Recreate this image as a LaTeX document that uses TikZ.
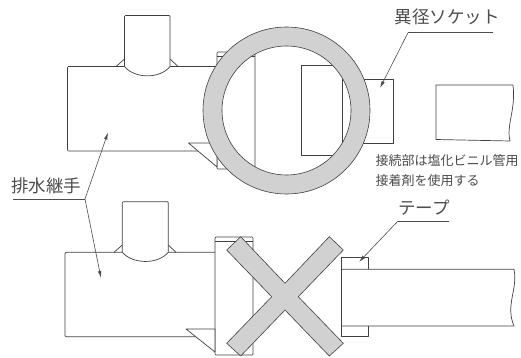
\documentclass[tikz,border=0pt]{standalone}
\usepackage{fontspec}
\setmainfont{Noto Sans CJK JP}
\usetikzlibrary{calc,arrows.meta}

\tikzset{
  outline/.style={color=black!75, line width=0.7pt, line join=round},
  leader/.style={color=black!70, line width=0.6pt},
  leaderarrow/.style={leader, -{Latex[length=7pt,width=3.5pt]}},
  cover/.style={color=black!75, fill=black!18, line width=0.6pt},
  biglabel/.style={color=black!70, font=\fontsize{17.5}{17.5}\selectfont, inner sep=0pt},
  smalllabel/.style={color=black!70, font=\fontsize{13}{13}\selectfont, inner sep=0pt, anchor=west}
}

\begin{document}
\begin{tikzpicture}[x=1pt,y=-1pt]
    \useasboundingbox (0,0) rectangle (521,358);

    % upper joint
    \draw [outline, rounded corners=1pt] (217,66.5) -- (67.5,66.5) -- (67.5,151) -- (217,151);
    \draw [outline] (116,66.5) -- (124.5,59);
    \draw [outline] (170,59) -- (178,66.5);
    \fill [white] (124.5,66.5) rectangle (170,70);
    \draw [outline, fill=white] (124.5,66.5) -- (124.5,16.5) [rounded corners=1pt] -- (124.5,15.5) -- (170,15.5) [sharp corners] -- (170,66.5) .. controls (160,79) and (135,79) .. (124.5,66.5);
    \draw [outline, fill=white, rounded corners=1pt] (217,52) rectangle (255,169);
    \draw [outline] (217,56) -- (255,56);
    \draw [outline, fill=white] (188.5,143) -- (217,143) -- (217,167) -- cycle;

    % upper socket and pipe
    \draw [outline] (301,65) rectangle (342,155);
    \draw [outline] (342,79) rectangle (393,143);
    \draw [outline] (513,85) -- (436,85) -- (436,139.5) -- (510,141) .. controls (506,125) and (516,110) .. (513,85);

    % ring
    \draw [cover, even odd rule] (286.5,110.5) circle (83.5pt) circle (64.5pt);

    % lower joint
    \draw [outline, rounded corners=1pt] (215,252.3) -- (65,252.3) -- (65,336.7) -- (215,336.7);
    \draw [outline] (114,252.3) -- (122.3,245);
    \draw [outline] (168.3,245) -- (176,252.3);
    \draw [outline, fill=white] (122.3,252.3) -- (122.3,202.7) [rounded corners=1pt] -- (122.3,201.7) -- (168.3,201.7) [sharp corners] -- (168.3,252.3) .. controls (158,264.5) and (133,264.5) .. (122.3,252.3);
    \draw [outline, fill=white, rounded corners=1pt] (215,237) rectangle (253,355);
    \draw [outline] (215,241) -- (253,241);
    \draw [outline, fill=white] (186,329) -- (215,329) -- (215,352) -- cycle;

    % lower pipe with tape
    \draw [outline] (368.7,269.3) -- (368.7,257.3) -- (341.3,257.3) -- (341.3,336) -- (368.7,336) -- (368.7,326);
    \draw [outline] (341.3,269.3) -- (514,269.3) .. controls (518,290) and (505,305) .. (514,326) -- (341.3,326);

    % cross
    \draw [cover] (240.7,236.7) -- (285,283.3) -- (329.3,236.7) -- (343.3,250) -- (298.3,296.7) -- (343.3,343.3) -- (329.3,356) -- (285,310) -- (240.7,356) -- (226.7,343.3) -- (271.7,296.7) -- (226.7,250) -- cycle;

    % labels
    \node [biglabel] (socketlabel) at (447,17) {異径ソケット};
    \node [biglabel] (jointlabel) at (46,186) {排水継手};
    \node [biglabel] (tapelabel) at (424,208) {テープ};
    \node [smalllabel] (gluelabela) at (375.5,160.5) {接続部は塩化ビニル管用};
    \node [smalllabel] (gluelabelb) at (375.5,181) {接着剤を使用する};

    % leaders
    \coordinate (socketend) at (493,32.7);
    \coordinate (socketbend) at (408,32.7);
    \coordinate (sockettip) at (380,88);
    \draw [leader] (socketend) -- (socketbend);
    \draw [leaderarrow] (socketbend) -- (sockettip);

    \coordinate (jointstart) at (13,199);
    \coordinate (jointbend) at (85,199);
    \coordinate (jointtipa) at (108,132.5);
    \coordinate (jointtipb) at (101,278);
    \draw [leader] (jointstart) -- (jointbend);
    \draw [leaderarrow] (jointbend) -- (jointtipa);
    \draw [leaderarrow] (jointbend) -- (jointtipb);

    \coordinate (tapeend) at (449,221);
    \coordinate (tapebend) at (398,221);
    \coordinate (tapetip) at (359,262);
    \draw [leader] (tapeend) -- (tapebend);
    \draw [leaderarrow] (tapebend) -- (tapetip);
  \end{tikzpicture}
\end{document}
